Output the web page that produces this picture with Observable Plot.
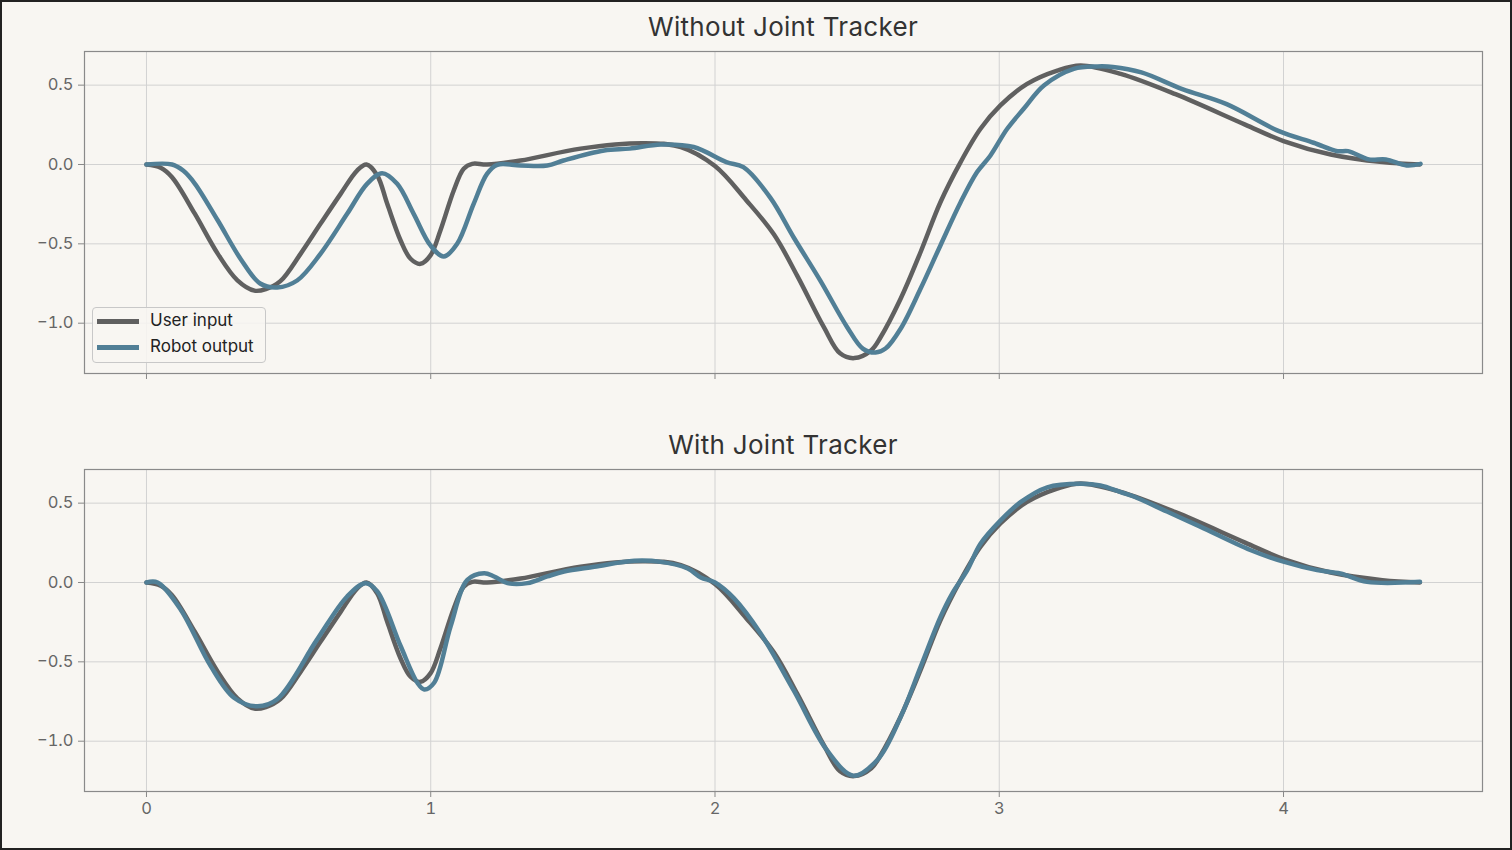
<!DOCTYPE html>
<html>
<head>
<meta charset="utf-8">
<script src="https://cdn.jsdelivr.net/npm/d3@7"></script>
<script src="https://cdn.jsdelivr.net/npm/@observablehq/plot@0.6"></script>
<style>
  body { margin: 0; background: #f8f6f2; }
  #fig { position: relative; width: 1512px; height: 850px; background: #f8f6f2; overflow: hidden; font-family: Inter, "DejaVu Sans", sans-serif; }
  #border { position: absolute; left: 0; top: 0; width: 1512px; height: 850px; box-sizing: border-box; border: 2px solid #222; pointer-events: none; }
  .panel { position: absolute; left: 0; }
  .title { position: absolute; left: 84px; width: 1398px; text-align: center; font-size: 26px; line-height: 30px; color: #333; letter-spacing: 0.3px; }
  #legend { position: absolute; left: 92px; top: 307px; width: 174px; height: 56px; box-sizing: border-box; border: 1px solid #c8c8c8; border-radius: 4px; background: rgba(248,246,242,0.85); }
  .lg-line { position: absolute; left: 4px; width: 42px; height: 4.5px; }
  .lg-text { position: absolute; left: 57px; font-size: 17px; line-height: 20px; color: #222; }
</style>
</head>
<body>
<div id="fig">
  <div class="title" style="top:12px">Without Joint Tracker</div>
  <div class="panel" id="top" style="top:0px"></div>
  <div class="title" style="top:430px">With Joint Tracker</div>
  <div class="panel" id="bottom" style="top:418px"></div>
  <div id="legend">
    <div class="lg-line" style="top:11px;background:#606060"></div>
    <div class="lg-text" style="top:2px">User input</div>
    <div class="lg-line" style="top:37px;background:#517f96"></div>
    <div class="lg-text" style="top:28px">Robot output</div>
  </div>
  <div id="border"></div>
</div>
<script>
// ---- data (time in s, joint value) ----
const userT = [0, 0.05, 0.09, 0.17, 0.25, 0.32, 0.38, 0.42, 0.471, 0.542, 0.612, 0.683, 0.741, 0.774, 0.812, 0.847, 0.894, 0.929, 0.964, 0.999, 1.034, 1.081, 1.116, 1.146, 1.198, 1.316, 1.527, 1.75, 1.88, 2.0, 2.11, 2.207, 2.289, 2.383, 2.44, 2.49, 2.55, 2.582, 2.653, 2.723, 2.793, 2.864, 2.934, 3.004, 3.098, 3.204, 3.286, 3.427, 3.62, 3.863, 4.0, 4.166, 4.348, 4.48];
const userV = [0, -0.02, -0.08, -0.31, -0.56, -0.73, -0.795, -0.785, -0.735, -0.563, -0.374, -0.185, -0.038, 0, -0.069, -0.248, -0.479, -0.594, -0.626, -0.573, -0.416, -0.164, -0.027, 0.004, 0.0, 0.025, 0.10, 0.134, 0.11, -0.01, -0.225, -0.44, -0.70, -1.025, -1.19, -1.22, -1.17, -1.09, -0.846, -0.553, -0.238, 0.015, 0.225, 0.372, 0.508, 0.592, 0.624, 0.571, 0.443, 0.253, 0.148, 0.063, 0.015, 0];

const robotNoTrackT = [0, 0.09, 0.13, 0.17, 0.25, 0.333, 0.40, 0.46, 0.53, 0.612, 0.706, 0.776, 0.829, 0.882, 0.940, 0.999, 1.046, 1.093, 1.151, 1.198, 1.234, 1.316, 1.41, 1.467, 1.61, 1.70, 1.81, 1.925, 2.04, 2.10, 2.195, 2.277, 2.37, 2.465, 2.52, 2.565, 2.60, 2.653, 2.723, 2.793, 2.864, 2.922, 2.969, 3.028, 3.086, 3.157, 3.262, 3.345, 3.40, 3.50, 3.644, 3.80, 3.984, 4.106, 4.19, 4.227, 4.30, 4.36, 4.433, 4.482];
const robotNoTrackV = [0, 0, -0.04, -0.12, -0.35, -0.60, -0.75, -0.775, -0.731, -0.563, -0.311, -0.122, -0.055, -0.122, -0.311, -0.51, -0.58, -0.50, -0.248, -0.059, -0.002, -0.006, -0.006, 0.025, 0.088, 0.10, 0.126, 0.11, 0.015, -0.017, -0.21, -0.46, -0.73, -1.025, -1.16, -1.185, -1.16, -1.035, -0.783, -0.51, -0.238, -0.048, 0.057, 0.225, 0.351, 0.498, 0.603, 0.618, 0.615, 0.58, 0.475, 0.38, 0.21, 0.137, 0.084, 0.084, 0.032, 0.032, -0.006, 0.004];

const robotTrackT = [0, 0.039, 0.12, 0.226, 0.308, 0.39, 0.46, 0.60, 0.706, 0.771, 0.812, 0.894, 0.953, 0.977, 1.012, 1.07, 1.129, 1.188, 1.223, 1.27, 1.34, 1.41, 1.469, 1.575, 1.716, 1.81, 1.904, 1.95, 2.0, 2.067, 2.16, 2.277, 2.394, 2.487, 2.575, 2.653, 2.723, 2.793, 2.834, 2.887, 2.934, 3.004, 3.075, 3.169, 3.286, 3.356, 3.427, 3.473, 3.59, 3.707, 3.883, 4.0, 4.118, 4.2, 4.294, 4.48];
const robotTrackV = [0, 0, -0.17, -0.527, -0.726, -0.78, -0.736, -0.36, -0.088, -0.004, -0.056, -0.40, -0.632, -0.674, -0.632, -0.276, 0.017, 0.059, 0.038, -0.004, -0.004, 0.038, 0.069, 0.099, 0.137, 0.13, 0.088, 0.032, 0.0, -0.10, -0.32, -0.68, -1.057, -1.217, -1.11, -0.848, -0.533, -0.218, -0.071, 0.076, 0.244, 0.39, 0.506, 0.60, 0.622, 0.611, 0.569, 0.542, 0.447, 0.352, 0.205, 0.131, 0.078, 0.057, 0.004, 0.004];

const xTicks = [0, 1, 2, 3, 4];
const yTicks = [-1.0, -0.5, 0.0, 0.5];

const toRows = (ts, vs) => ts.map((t, i) => ({t, v: vs[i]}));
const userRows = toRows(userT, userV);

const USER_COLOR = "#606060";
const ROBOT_COLOR = "#517f96";
const fmtY = d3.format(".1f");

function panel(robotRows, height, marginBottom, showXLabels) {
  return Plot.plot({
    width: 1512,
    height,
    marginTop: 51,
    marginBottom,
    marginLeft: 84,
    marginRight: 30,
    style: {background: "transparent", fontFamily: "Inter, 'DejaVu Sans', sans-serif", fontSize: "16px", color: "#666", overflow: "visible"},
    x: {domain: [-0.218, 4.700]},
    y: {domain: [-1.317, 0.712]},
    marks: [
      Plot.gridX(xTicks, {stroke: "#d2d2d2", strokeOpacity: 1, strokeWidth: 1}),
      Plot.gridY(yTicks, {stroke: "#d2d2d2", strokeOpacity: 1, strokeWidth: 1}),
      Plot.axisY(yTicks, {tickSize: 6, tickPadding: 5, stroke: "#888", fill: "#666", fontSize: 16.5, tickFormat: fmtY, label: null}),
      Plot.axisX(xTicks, {tickSize: 6, tickPadding: 5, stroke: "#888", fill: "#666", fontSize: 16.5, tickFormat: showXLabels ? d3.format("d") : () => "", label: null}),
      Plot.line(userRows, {x: "t", y: "v", stroke: USER_COLOR, strokeWidth: 4.5, curve: "catmull-rom", strokeLinejoin: "round"}),
      Plot.line(robotRows, {x: "t", y: "v", stroke: ROBOT_COLOR, strokeWidth: 4.5, curve: "catmull-rom", strokeLinejoin: "round"}),
      Plot.frame({stroke: "#8a8a8a", strokeWidth: 1.2})
    ]
  });
}

document.getElementById("top").append(panel(toRows(robotNoTrackT, robotNoTrackV), 400, 27, false));
document.getElementById("bottom").append(panel(toRows(robotTrackT, robotTrackV), 432, 59, true));
</script>
</body>
</html>
